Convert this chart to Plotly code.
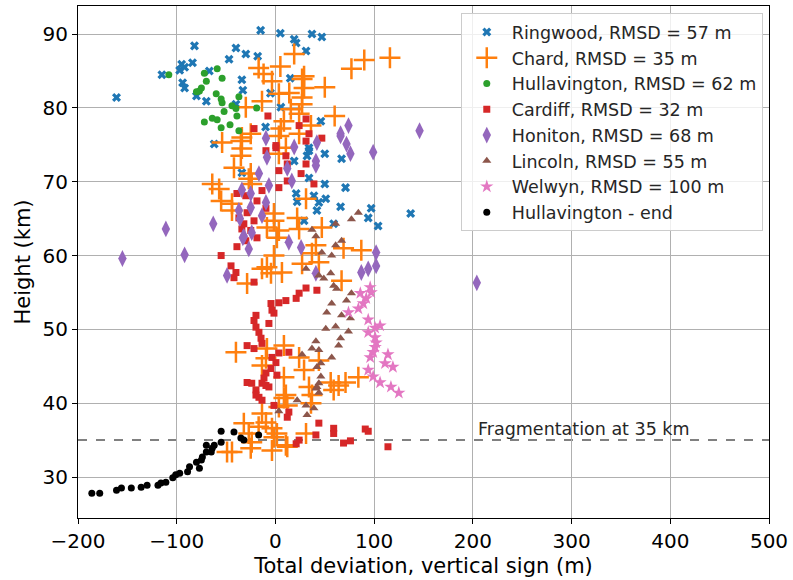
import plotly.graph_objects as go

# ---- data (x: total deviation in m, y: height in km) ----
ringwood_x = [-161, -115, -95, -97, -92, -82, -84, -94, -92, -80, -70, -67, -47, -40, -30, -18, -34, -33,
              -15, 5, 19, 21, 31, 37, 47, 15, -5, -40, 5.5, -10, -62, 34, 34, 50, 67, 32, 34, 50, 71, 21,
              39, 51, 22, 44, 42, 66, 97, 94, 104, 137, 29, 59, -34, 19, 46]
ringwood_y = [81.4, 84.5, 85.9, 85.1, 85.5, 88.4, 86.1, 83.4, 82.7, 81.6, 80.9, 85.0, 86.6, 88.1, 87.3, 87.0,
              83.8, 82.4, 90.5, 90.1, 89.3, 88.8, 87.7, 90.0, 89.6, 84.0, 82.0, 80.5, 80.1, 77.4, 75.1, 74.6,
              74.2, 73.8, 73.1, 73.5, 70.5, 69.7, 69.2, 68.4, 68.1, 67.7, 67.3, 67.2, 66.1, 66.6, 66.4, 65.1,
              64.0, 65.7, 64.7, 64.3, 71.2, 72.8, 78.2]

chard_x = [-17, -12, -3.5, 19, 27, 29, 3.5, -13.6, -30, 15.6, 24, 8.6, 5.5, 36, -54, -34, -25, 3.5, 24, 10.6,
           90, 116, 77, 50, 29, 27, 27, 60, -35, -34, -35, 3.5, -42, -25, -27, -24, -64, -57, -55, -44, -44,
           -1.5, -1.5, -8.6, 3.5, 1.5, 22, 24, 31, 47, 41, 37, 69, 87, -1.5, -8.6, -4.5, 6.6, -13.6, 27, 44,
           67, -28.7, -40, -8.6, 8.6, -9.6, -13.6, 24, 44, 29, 8.6, 34, 56, 64, 71, 84, 59, 37, 10.6, 8.6, 12,
           3.5, 36, -13.6, -9.6, -32, -3.5, -27, -1.5, -24, -3.5, 10.6, -44, 31, -49, -25, -17, 1.5, 12, 5, 14]
chard_y = [85.4, 84.6, 83.6, 87.3, 83.9, 82.7, 81.9, 80.9, 80.1, 79.8, 79.2, 78.2, 77.2, 77.6, 75.3, 76.0,
           76.5, 76.2, 76.5, 74.6, 86.5, 86.8, 85.3, 82.8, 84.3, 81.4, 80.5, 78.9, 75.5, 74.5, 73.5, 73.8,
           71.9, 71.1, 70.4, 69.7, 69.7, 69.0, 67.4, 67.0, 66.1, 65.7, 64.7, 63.8, 63.4, 62.4, 65.1, 63.6,
           67.7, 63.8, 61.4, 60.3, 61.0, 60.7, 60.0, 58.4, 57.6, 57.7, 58.2, 58.9, 59.1, 56.6, 56.2, 46.9,
           47.4, 47.8, 46.1, 45.1, 46.2, 45.8, 44.5, 43.5, 42.2, 42.8, 42.4, 42.8, 43.5, 41.8, 41.1, 41.1,
           40.7, 39.7, 39.5, 40.0, 38.6, 37.4, 37.3, 36.6, 35.9, 35.4, 34.7, 33.6, 34.3, 33.4, 35.9, 33.4,
           33.9, 36.8, 35.9, 34.1, 85.6, 82.0]

hullavington_x = [-108, -59, -72, -54, -70, -75, -77, -80, -60, -55, -54, -44, -40, -37, -39, -52, -64, -59,
                  -72, -55, -46, -37, -19]
hullavington_y = [84.5, 85.3, 84.7, 84.0, 83.6, 82.7, 82.3, 82.2, 81.9, 81.2, 80.7, 80.3, 79.9, 81.5, 78.9,
                  79.5, 78.6, 78.4, 78.1, 77.3, 77.7, 76.9, 80.0]

cardiff_x = [-7.6, -21.7, 31, 24, 34, 0.5, 31, 47, 10.6, 12, 0.5, -9.6, 3.5, 26, 31, 12, 39, 3.5, -39, -13.6,
             -18.7, -9.6, -28.7, -37, -21.7, -34, -25, -18.7, -39, -30, -55, -45, -40, -30, -32, -42, -21.7,
             31, 24, 21, 42, 10.6, 3.5, -4.5, -3.5, -1.5, -19.7, -21.7, -6.6, -19.7, -16.7, -14.6, -13.6,
             -28.7, -21.7, 13.6, 3.5, -3.5, 0.5, -4.5, -9.6, 1.5, -11.6, -28.7, -13.6, -6.6, -19.7, -16.7,
             -24, -9.6, -19.7, -13.6, -1.5, 13.6, 12, 44, 59, 41, 59, 69, 76, 91, 94, 114, 24, 21]
cardiff_y = [78.9, 77.2, 78.5, 77.6, 76.5, 74.9, 75.5, 75.9, 73.5, 72.4, 74.6, 74.2, 71.5, 71.1, 72.4, 70.1,
             69.7, 69.2, 68.4, 68.8, 67.4, 66.4, 65.8, 65.1, 64.7, 63.6, 63.4, 62.4, 61.2, 62.0, 60.0, 58.6,
             57.7, 68.1, 64.3, 57.0, 56.4, 55.6, 54.9, 54.2, 55.3, 53.9, 53.6, 53.5, 52.6, 52.2, 51.9, 51.2,
             50.8, 50.3, 49.6, 48.8, 48.1, 47.8, 47.4, 46.9, 46.8, 46.2, 45.5, 44.7, 44.1, 43.8, 43.4, 42.8,
             42.7, 42.2, 41.8, 40.8, 42.7, 42.4, 41.1, 40.4, 39.7, 38.8, 38.1, 37.3, 36.6, 35.7, 35.9, 34.6,
             34.9, 36.5, 36.2, 34.1, 35.0, 34.5]

honiton_x = [-155, -111, -92, -63, -34, -37, -36, -33, -49, -9.6, 19, 42, 41, 41, -8.6, 12, 16.6, -16.7, -6.6,
             -25, -25, -9.6, -13.6, -32, -24, 13.6, 26, -27, 66, 72, 76, 99, 74, 66, 146, 204, 102, 41, 87,
             94, 102]
honiton_y = [59.6, 63.6, 60.1, 64.3, 68.9, 66.1, 65.0, 62.4, 57.3, 75.9, 74.7, 75.3, 72.8, 72.2, 73.3, 71.8,
             70.1, 71.1, 69.5, 68.4, 66.5, 67.2, 65.4, 62.6, 63.1, 61.8, 61.1, 60.9, 76.2, 75.1, 73.8, 74.0,
             77.6, 76.5, 76.9, 56.3, 60.4, 57.6, 57.7, 58.2, 58.6]

lincoln_x = [84, 77, 61, 37, 41, 67, 61, 57, 47, 31, 56, 49, 44, 59, 62, 77, 72, 57, 52, 67, 76, 61, 51, 74,
             66, 41, 64, 37, 44, 27, 57, 46, 42, 46, 44, 41, 44, 22, 42, 31, 39, 3.5, 32]
lincoln_y = [65.8, 64.9, 64.3, 63.5, 62.6, 62.0, 61.4, 60.0, 60.4, 58.2, 57.6, 56.9, 57.3, 55.9, 55.5, 54.9,
             53.9, 53.5, 52.3, 51.9, 51.5, 50.4, 50.1, 49.7, 48.8, 48.4, 47.8, 47.4, 47.2, 46.6, 46.2, 45.4,
             44.9, 43.6, 42.7, 42.0, 41.4, 40.4, 42.2, 39.7, 39.3, 38.9, 38.4]

welwyn_x = [86, 96, 97, 92, 89, 84, 74, 94, 106, 101, 94, 101, 102, 101, 99, 96, 114, 111, 119, 94, 99, 106,
            117, 125]
welwyn_y = [54.9, 55.7, 55.0, 54.2, 53.5, 52.8, 52.3, 51.3, 50.5, 50.2, 49.6, 48.9, 48.2, 47.6, 46.9, 46.2,
            46.6, 45.4, 44.9, 44.5, 43.6, 42.8, 42.2, 41.4]

end_x = [-186, -178, -161, -156, -146, -136, -130, -119, -116, -111, -104, -101, -97, -89, -87, -80, -77, -75,
         -74, -70, -65, -64, -70, -62, -55, -55, -42, -35, -32, -17]
end_y = [27.8, 27.8, 28.2, 28.5, 28.5, 28.6, 28.9, 28.9, 29.2, 29.3, 29.9, 30.3, 30.5, 30.7, 31.4, 32.0, 31.2,
         32.3, 32.7, 33.4, 33.4, 33.9, 34.3, 34.3, 34.7, 36.2, 36.1, 35.3, 35.0, 35.7]

frag_height = 35
x_ticks = [-200, -100, 0, 100, 200, 300, 400, 500]
y_ticks = [30, 40, 50, 60, 70, 80, 90]

# ---- figure ----
fig = go.Figure()

series = [
    ("Ringwood, RMSD = 57 m", ringwood_x, ringwood_y, dict(symbol="x", size=8, color="#1f77b4", line=dict(width=0))),
    ("Chard, RMSD = 35 m", chard_x, chard_y, dict(symbol="cross-thin", size=15, color="#ff7f0e", line=dict(width=2.5, color="#ff7f0e"))),
    ("Hullavington, RMSD = 62 m", hullavington_x, hullavington_y, dict(symbol="circle", size=7, color="#2ca02c", line=dict(width=0))),
    ("Cardiff, RMSD = 32 m", cardiff_x, cardiff_y, dict(symbol="square", size=7, color="#d62728", line=dict(width=0))),
    ("Honiton, RMSD = 68 m", honiton_x, honiton_y, dict(symbol="diamond-tall", size=12, color="#9467bd", line=dict(width=0))),
    ("Lincoln, RMSD = 55 m", lincoln_x, lincoln_y, dict(symbol="triangle-up", size=8, color="#8c564b", line=dict(width=0))),
    ("Welwyn, RMSD = 100 m", welwyn_x, welwyn_y, dict(symbol="star", size=10, color="#e377c2", line=dict(width=0))),
    ("Hullavington - end", end_x, end_y, dict(symbol="circle", size=7, color="black", line=dict(width=0))),
]
for name, xs, ys, mk in series:
    fig.add_trace(go.Scatter(x=xs, y=ys, mode="markers", name=name, marker=mk))

fig.add_shape(type="line", xref="paper", x0=0, x1=1, yref="y", y0=frag_height, y1=frag_height,
              line=dict(color="#808080", width=2, dash="dash"), layer="below")
fig.add_annotation(x=205, y=frag_height, xref="x", yref="y", text="Fragmentation at 35 km",
                   showarrow=False, xanchor="left", yanchor="bottom", xshift=-2, yshift=-1,
                   font=dict(size=17.5, color="#262626"))

axis_common = dict(showgrid=True, gridcolor="#b0b0b0", gridwidth=1, zeroline=False,
                   showline=True, linecolor="black", linewidth=1.2, mirror=True,
                   ticks="outside", ticklen=5, tickcolor="black", tickwidth=1.2,
                   tickfont=dict(size=20, color="black"))

fig.update_layout(
    width=793, height=580,
    margin=dict(l=78, r=21, t=5, b=62),
    paper_bgcolor="white", plot_bgcolor="white",
    font=dict(family="DejaVu Sans", color="black"),
    xaxis=dict(range=[-200, 500], tickvals=x_ticks,
               title=dict(text="Total deviation, vertical sign (m)", font=dict(size=21), standoff=6),
               **axis_common),
    yaxis=dict(range=[24.45, 93.8], tickvals=y_ticks,
               title=dict(text="Height (km)", font=dict(size=21), standoff=6),
               **axis_common),
    legend=dict(x=0.991, y=0.986, xanchor="right", yanchor="top",
                bgcolor="rgba(255,255,255,0.8)", bordercolor="#cccccc", borderwidth=1,
                font=dict(size=17.5, color="#262626"), tracegroupgap=0, itemsizing="trace",
                itemwidth=40),
    showlegend=True,
)

fig.write_html("out.html", config={"displayModeBar": False},
               post_script="document.body.style.margin='0px';")
